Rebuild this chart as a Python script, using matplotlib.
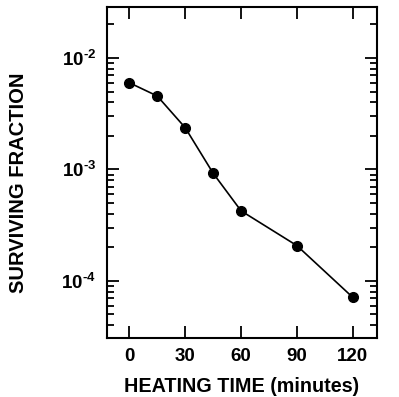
import matplotlib
matplotlib.use("Agg")
import matplotlib.pyplot as plt
from matplotlib.ticker import LogLocator, FixedLocator, NullFormatter

plt.rcParams['font.family'] = ['Liberation Sans', 'DejaVu Sans']
plt.rcParams['mathtext.fontset'] = 'custom'
plt.rcParams['mathtext.rm'] = 'Liberation Sans:bold'
plt.rcParams['mathtext.bf'] = 'Liberation Sans:bold'
plt.rcParams['mathtext.default'] = 'bf'

heating_time = [0, 15, 30, 45, 60, 90, 120]
surviving_fraction = [6.0e-3, 4.56e-3, 2.37e-3, 9.25e-4, 4.25e-4, 2.07e-4, 7.1e-5]
x_ticks = [0, 30, 60, 90, 120]
y_ticks = [1e-4, 1e-3, 1e-2]
y_tick_labels = [r'$10^{\text{-}4}$', r'$10^{\text{-}3}$', r'$10^{\text{-}2}$']

fig = plt.figure(figsize=(3.99, 3.97), dpi=100)
ax = fig.add_axes([0.268, 0.149, 0.677, 0.833])

ax.plot(heating_time, surviving_fraction, color='black', lw=1.2,
        marker='o', markersize=7, markerfacecolor='black')

ax.set_yscale('log')
ax.set_xlim(-12, 133)
ax.set_ylim(3.08e-5, 2.86e-2)

ax.xaxis.set_major_locator(FixedLocator(x_ticks))
ax.set_xticklabels([str(t) for t in x_ticks])
ax.yaxis.set_major_locator(FixedLocator(y_ticks))
ax.set_yticklabels(y_tick_labels)
ax.yaxis.set_minor_locator(LogLocator(base=10, subs=range(2, 10)))
ax.yaxis.set_minor_formatter(NullFormatter())

ax.tick_params(which='both', direction='in', top=True, right=True, width=1.3, colors='black')
ax.tick_params(which='major', length=8.5, labelsize=13.5, pad=7)
ax.tick_params(axis='y', which='major', pad=8)
ax.tick_params(which='minor', length=5)
for lab in ax.get_xticklabels() + ax.get_yticklabels():
    lab.set_fontweight('bold')

for s in ax.spines.values():
    s.set_linewidth(1.5)

ax.set_xlabel('HEATING TIME (minutes)', fontsize=14.2, fontweight='bold', labelpad=9)
ax.set_ylabel('SURVIVING FRACTION', fontsize=14.5, fontweight='bold')
ax.yaxis.set_label_coords(-0.293, 0.468)

fig.savefig('out.png', dpi=100)
